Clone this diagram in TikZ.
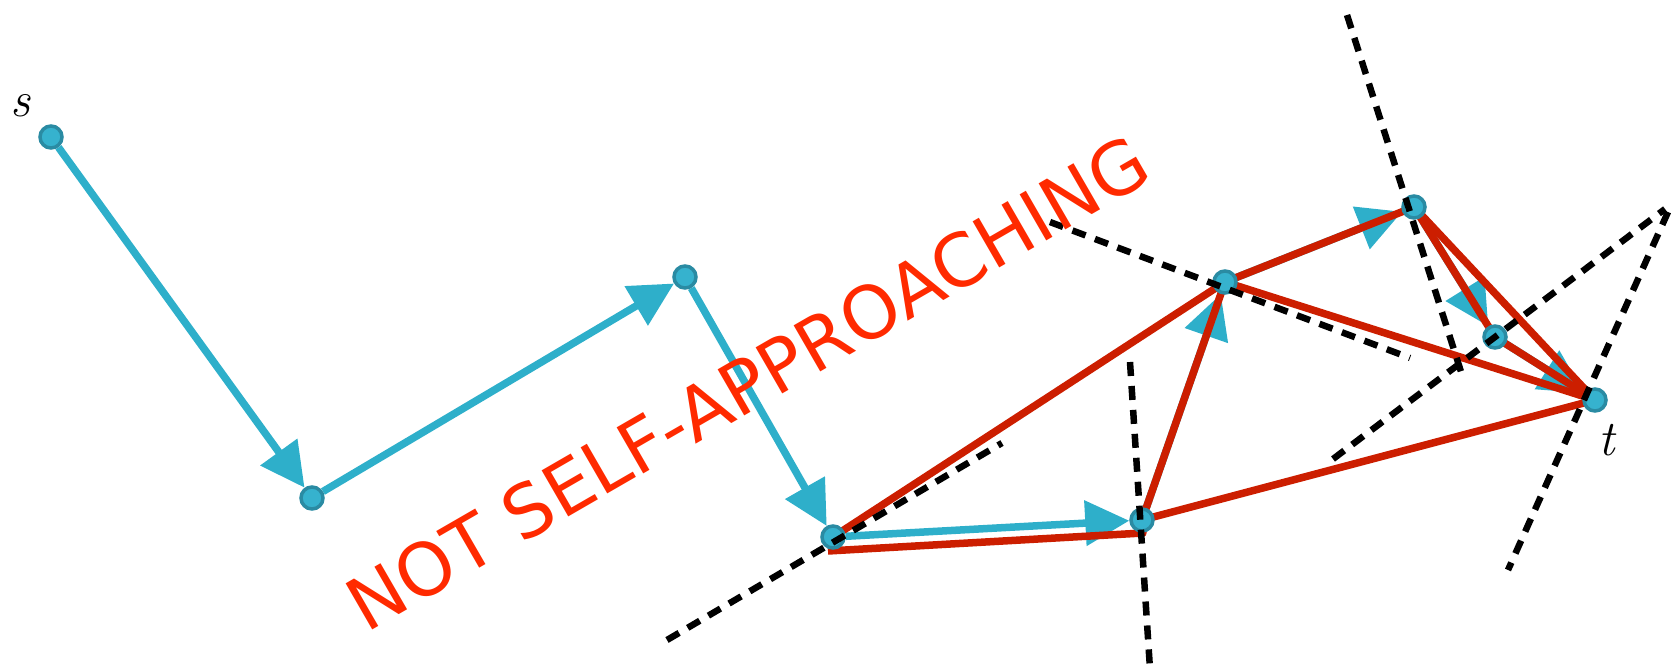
\documentclass[tikz,border=0pt]{standalone}
\usepackage{fontspec}
\newfontfamily\warnfont{DejaVu Sans}
\usetikzlibrary{arrows.meta}
\definecolor{pathblue}{HTML}{2EAFCA}
\definecolor{nodefill}{HTML}{36B2CE}
\definecolor{nodeline}{HTML}{2A8BA3}
\definecolor{pathred}{HTML}{CC1E00}
\definecolor{warnred}{HTML}{FF2A00}
\pgfdeclarelayer{edges}
\pgfsetlayers{edges,main}
\begin{document}
\begin{tikzpicture}[x=1pt,y=-1pt,
  vertex/.style={circle,fill=nodefill,draw=nodeline,line width=3.5pt,minimum size=22pt,inner sep=0pt},
  bluepath/.style={draw=pathblue,line width=7.5pt,-{Triangle[length=44pt,width=44pt]}},
  redpath/.style={draw=pathred,line width=7.5pt,line join=round},
  cut/.style={draw=black,line width=6.5pt,dash pattern=on 14pt off 10pt},
  lbl/.style={inner sep=0pt,font=\itshape\fontsize{50}{60}\selectfont}]
\useasboundingbox (0,0) rectangle (1671,669);
% vertices
\node[vertex] (s)  at (51,137) {};
\node[vertex] (v1) at (312,498) {};
\node[vertex] (v2) at (685,277) {};
\node[vertex] (v3) at (833,537) {};
\node[vertex] (v4) at (1142,520) {};
\node[vertex] (v5) at (1225,282) {};
\node[vertex] (v6) at (1414,207) {};
\node[vertex] (v7) at (1495,337) {};
\node[vertex] (t)  at (1595,400) {};
% labels
\node[lbl] (slabel) at (20,106) {s};
\node[lbl] (tlabel) at (1607,440) {t};
\begin{pgfonlayer}{edges}
  % blue path
  \draw[bluepath] (s) -- (v1);
  \draw[bluepath] (v1) -- (v2);
  \draw[bluepath] (v2) -- (v3);
  \draw[bluepath] (v3) -- (v4);
  \draw[bluepath] (v4) -- (v5);
  \draw[bluepath] (v5) -- (v6);
  \draw[bluepath] (v6) -- (v7);
  \draw[bluepath] (v7) -- (t);
  % red segments
  \draw[redpath] (v3.center) -- (v5.center);
  \draw[redpath] ([shift={(-5,14)}]v3.center) -- ([shift={(1,13)}]v4.center) -- (v4.center);
  \draw[redpath] (v4.center) -- (v5.center);
  \draw[redpath] (v4.center) -- (t.center);
  \draw[redpath] (v5.center) -- (v6.center);
  \draw[redpath] (v5.center) -- (t.center);
  \draw[redpath] (v6.center) -- (v7.center);
  \draw[redpath] (v6.center) -- (t.center);
  \draw[redpath] (v7.center) -- (t.center);
\end{pgfonlayer}
% dashed lines
\coordinate (a1) at (667,640);  \coordinate (b1) at (1002,443);
\coordinate (a2) at (1130,362); \coordinate (b2) at (1150,669);
\coordinate (a3) at (1050,222); \coordinate (b3) at (1410,358);
\coordinate (a4) at (1347,15);  \coordinate (b4) at (1463,378);
\coordinate (a5) at (1333,459); \coordinate (b5) at (1665,209);
\coordinate (a6) at (1668,212); \coordinate (b6) at (1508,570);
\draw[cut] (a1) -- (b1);
\draw[cut] (a2) -- (b2);
\draw[cut] (a3) -- (b3);
\draw[cut] (a4) -- (b4);
\draw[cut] (a5) -- (b5);
\draw[cut] (a6) -- (b6);
% caption
\node[text=warnred,rotate=30,anchor=base west,inner sep=0pt,
      font=\warnfont\fontsize{73}{88}\selectfont] (warn) at (366,634) {NOT SELF-APPROACHING};
\end{tikzpicture}
\end{document}
